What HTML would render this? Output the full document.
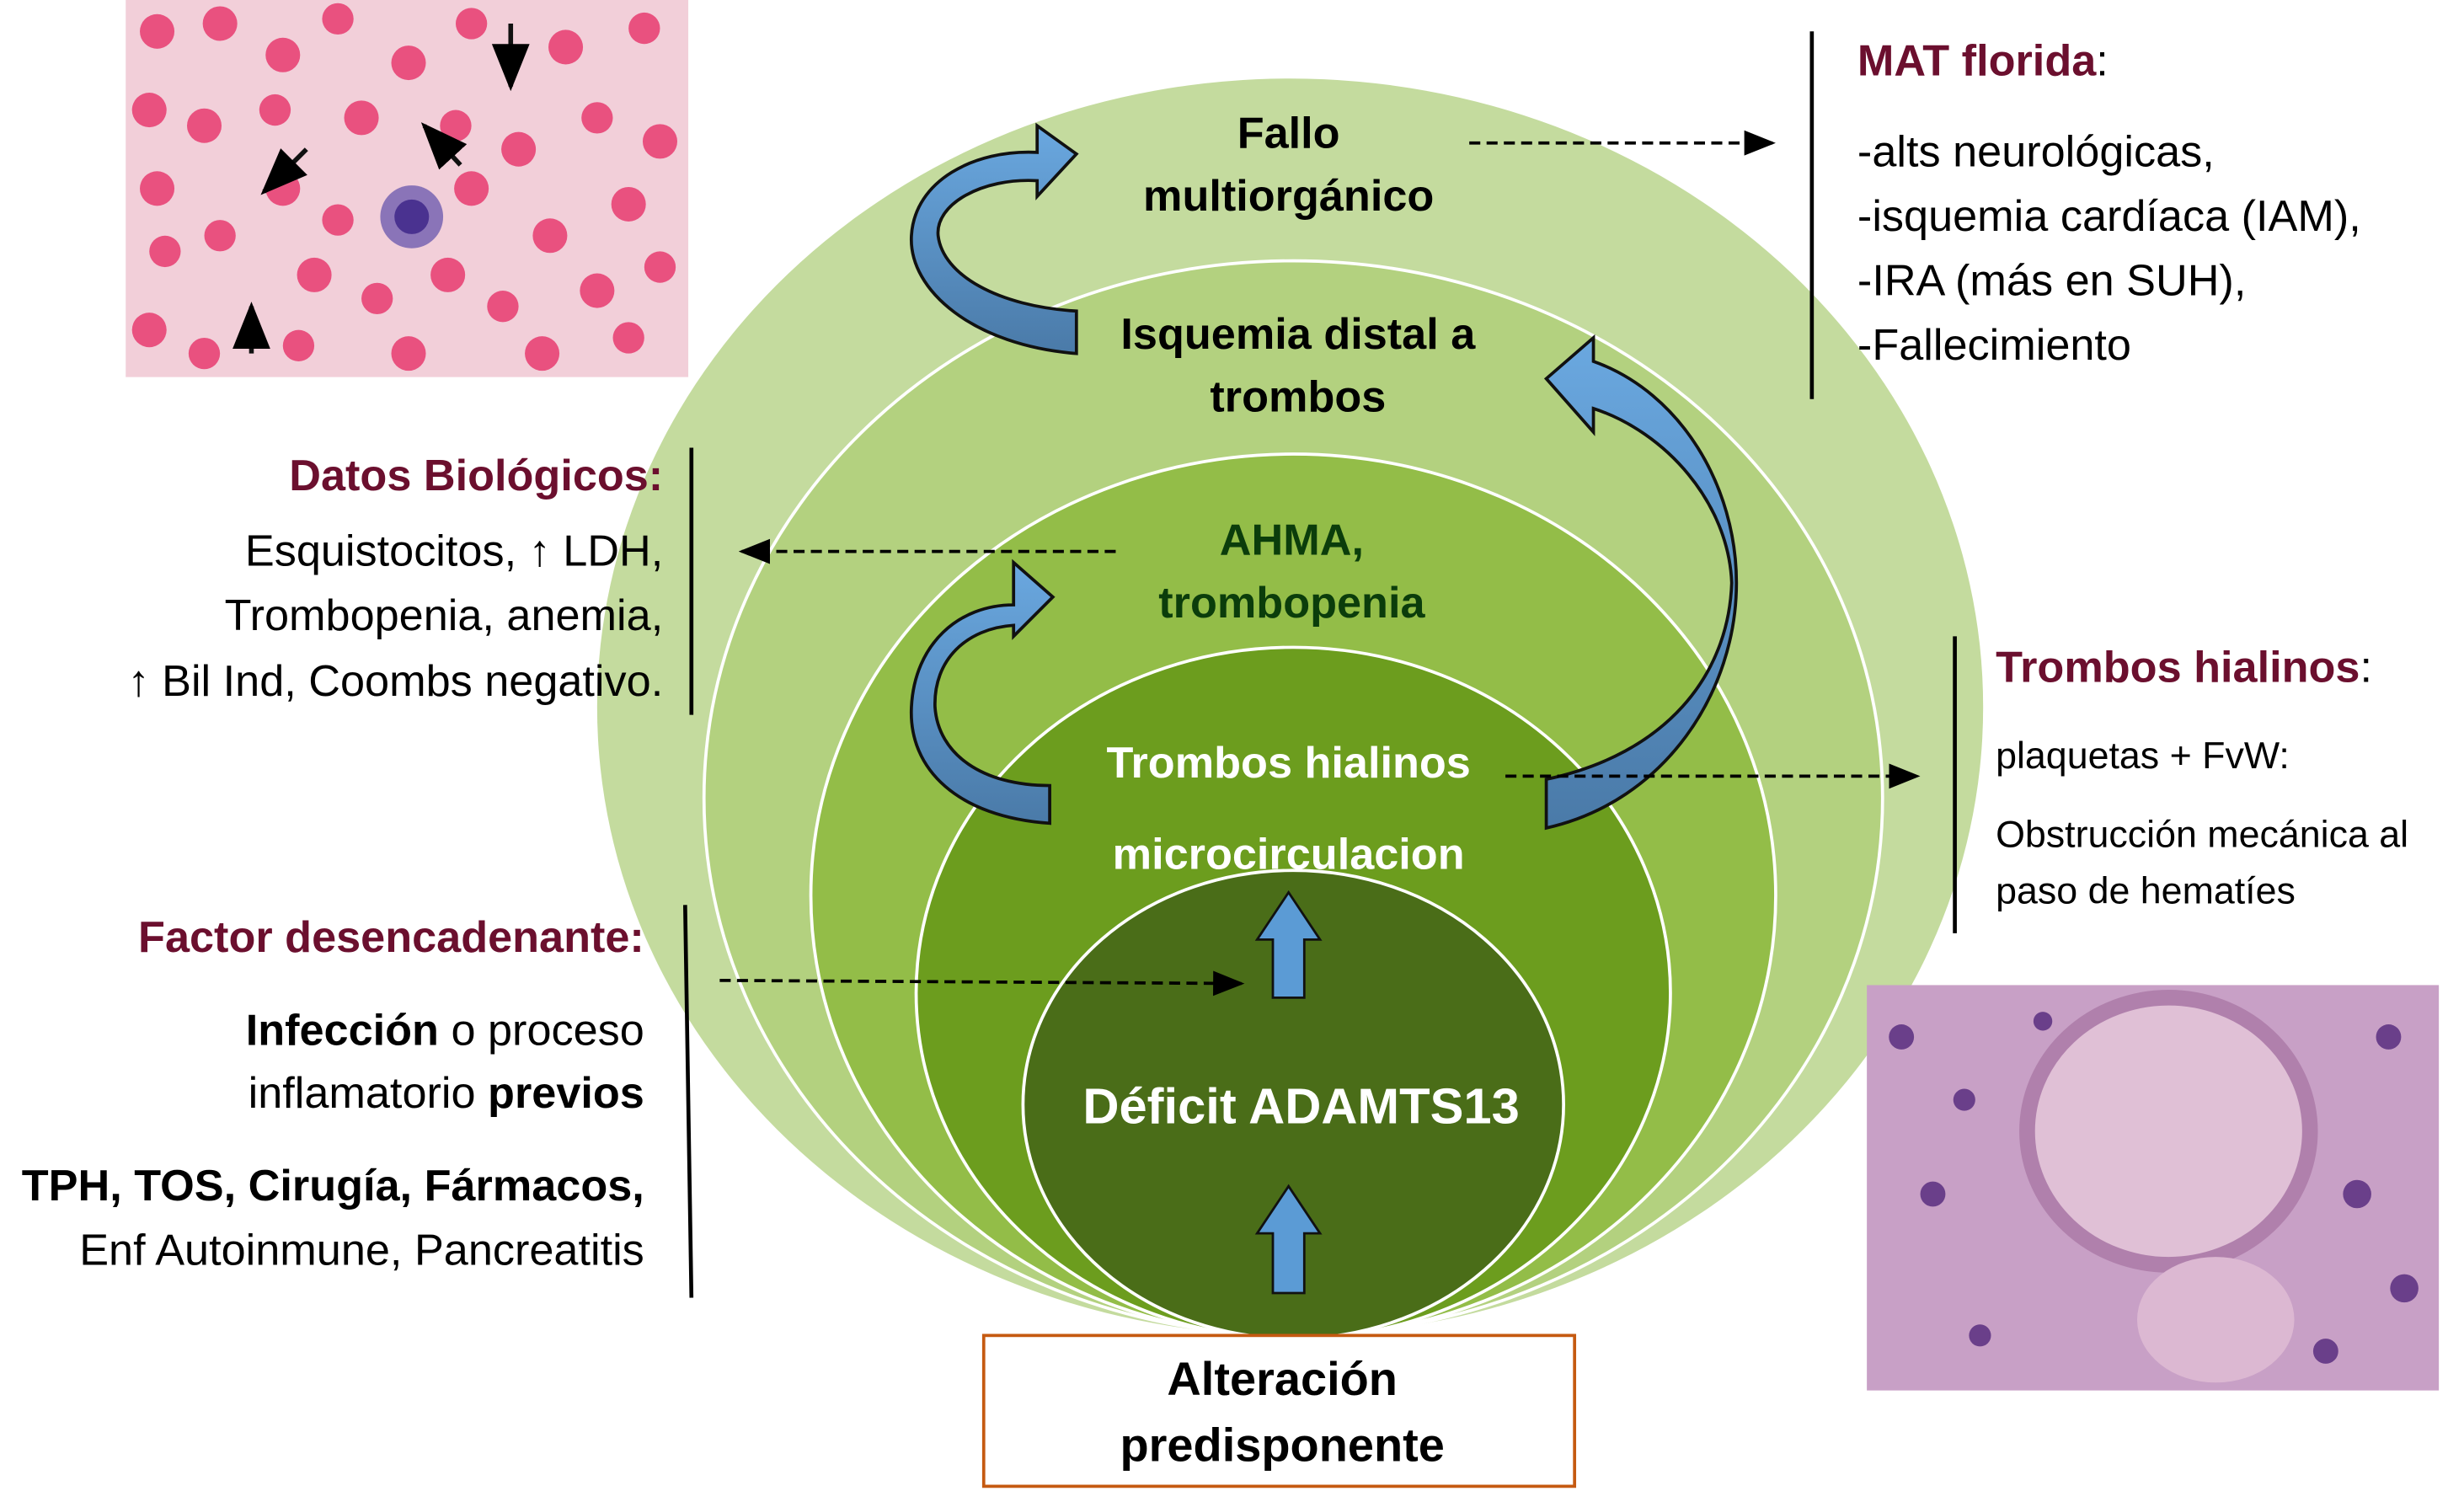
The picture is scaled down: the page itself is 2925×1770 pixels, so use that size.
<!DOCTYPE html>
<html><head><meta charset="utf-8"><style>
html,body{margin:0;padding:0;background:#fff;}
svg{display:block;}
text{font-family:"Liberation Sans",sans-serif;}
</style></head><body>
<svg width="2925" height="1770" viewBox="0 0 1568 949" preserveAspectRatio="none" xmlns="http://www.w3.org/2000/svg">
<defs>
<marker id="ah" markerWidth="10" markerHeight="10" refX="9" refY="5" orient="auto"><path d="M0,1 L10,5 L0,9 z" fill="#000"/></marker>
<linearGradient id="bl" x1="0" y1="0" x2="0" y2="1"><stop offset="0" stop-color="#6aa8e0"/><stop offset="1" stop-color="#4a7aa8"/></linearGradient>
</defs>
<rect width="1568" height="949" fill="#fff"/>
<ellipse cx="821" cy="450" rx="441" ry="400" fill="#c4db9e"/>
<ellipse cx="823" cy="508" rx="375" ry="342" fill="#b3d17f" stroke="#fff" stroke-width="2"/>
<ellipse cx="823" cy="570" rx="307" ry="281" fill="#93bd48" stroke="#fff" stroke-width="2"/>
<ellipse cx="823" cy="632" rx="240" ry="220" fill="#6c9d1e" stroke="#fff" stroke-width="2"/>
<ellipse cx="823" cy="703" rx="172" ry="149" fill="#4a6d18" stroke="#fff" stroke-width="2"/>

<rect x="80" y="0" width="358" height="240" fill="#f2cfd9"/>
<g fill="#e9517f">
<circle cx="100" cy="20" r="11"/><circle cx="140" cy="15" r="11"/><circle cx="180" cy="35" r="11"/><circle cx="215" cy="12" r="10"/><circle cx="260" cy="40" r="11"/><circle cx="300" cy="15" r="10"/><circle cx="360" cy="30" r="11"/><circle cx="410" cy="18" r="10"/>
<circle cx="95" cy="70" r="11"/><circle cx="130" cy="80" r="11"/><circle cx="175" cy="70" r="10"/><circle cx="230" cy="75" r="11"/><circle cx="290" cy="80" r="10"/><circle cx="330" cy="95" r="11"/><circle cx="380" cy="75" r="10"/><circle cx="420" cy="90" r="11"/>
<circle cx="100" cy="120" r="11"/><circle cx="180" cy="120" r="11"/><circle cx="215" cy="140" r="10"/><circle cx="300" cy="120" r="11"/><circle cx="350" cy="150" r="11"/><circle cx="400" cy="130" r="11"/>
<circle cx="105" cy="160" r="10"/><circle cx="140" cy="150" r="10"/><circle cx="200" cy="175" r="11"/><circle cx="240" cy="190" r="10"/><circle cx="285" cy="175" r="11"/><circle cx="320" cy="195" r="10"/><circle cx="380" cy="185" r="11"/><circle cx="420" cy="170" r="10"/>
<circle cx="95" cy="210" r="11"/><circle cx="130" cy="225" r="10"/><circle cx="190" cy="220" r="10"/><circle cx="260" cy="225" r="11"/><circle cx="345" cy="225" r="11"/><circle cx="400" cy="215" r="10"/>
</g>
<circle cx="262" cy="138" r="20" fill="#8a74b8"/><circle cx="262" cy="138" r="11" fill="#4a3290"/>
<g stroke="#111" stroke-width="3" marker-end="url(#ah)" fill="none">
<line x1="325" y1="15" x2="325" y2="55"/><line x1="195" y1="95" x2="168" y2="122"/><line x1="293" y1="105" x2="270" y2="80"/><line x1="160" y1="225" x2="160" y2="195"/>
</g>

<rect x="1188" y="627" width="364" height="258" fill="#c8a0c6"/>
<ellipse cx="1380" cy="720" rx="90" ry="85" fill="#e0c0d6" stroke="#b080ac" stroke-width="10"/>
<ellipse cx="1410" cy="840" rx="50" ry="40" fill="#dcb8d2"/>
<g fill="#6a3f8a"><circle cx="1210" cy="660" r="8"/><circle cx="1250" cy="700" r="7"/><circle cx="1230" cy="760" r="8"/><circle cx="1520" cy="660" r="8"/><circle cx="1500" cy="760" r="9"/><circle cx="1530" cy="820" r="9"/><circle cx="1480" cy="860" r="8"/><circle cx="1260" cy="850" r="7"/><circle cx="1300" cy="650" r="6"/></g>

<!-- blue arrows -->
<path d="M685,225 C620,220 578,185 580,150 C582,115 620,95 660,97 L660,80 L685,98 L660,125 L660,115 C625,113 595,130 597,150 C600,175 635,195 685,198 Z" fill="url(#bl)" stroke="#111" stroke-width="2"/>
<path d="M668,524 C610,520 578,490 580,450 C582,410 610,385 645,385 L645,358 L670,380 L645,405 L645,398 C615,400 594,420 595,450 C597,480 625,500 668,500 Z" fill="url(#bl)" stroke="#111" stroke-width="2"/>
<path d="M1014,230 C1070,250 1105,310 1105,371 C1105,440 1060,510 984,527 L984,496 C1060,480 1100,430 1102,371 C1100,320 1060,275 1014,260 L1014,275 L984,241 L1014,215 Z" fill="url(#bl)" stroke="#111" stroke-width="2"/>
<path d="M810,635 L810,598 L800,598 L820,568 L840,598 L830,598 L830,635 z" fill="#5b9bd5" stroke="#111" stroke-width="1.5"/>
<path d="M810,823 L810,785 L800,785 L820,755 L840,785 L830,785 L830,823 z" fill="#5b9bd5" stroke="#111" stroke-width="1.5"/>

<g font-weight="bold" text-anchor="middle" font-size="28">
<text x="820" y="94" fill="#000">Fallo</text><text x="820" y="134" fill="#000">multiorgánico</text>
<text x="826" y="222" fill="#000">Isquemia distal a</text><text x="826" y="262" fill="#000">trombos</text>
<text x="822" y="353" fill="#0b3d0b">AHMA,</text><text x="822" y="393" fill="#0b3d0b">trombopenia</text>
<text x="820" y="495" fill="#fff">Trombos hialinos</text><text x="820" y="553" fill="#fff">microcirculacion</text>
<text x="828" y="715" fill="#fff" font-size="32">Déficit ADAMTS13</text>
</g>

<rect x="626" y="850" width="376" height="96" fill="#fff" stroke="#c55a11" stroke-width="2"/>
<text x="816" y="888" text-anchor="middle" font-weight="bold" font-size="30">Alteración</text>
<text x="816" y="930" text-anchor="middle" font-weight="bold" font-size="30">predisponente</text>

<g stroke="#000" stroke-width="2" stroke-dasharray="7,4" marker-end="url(#ah)" fill="none">
<line x1="935" y1="91" x2="1128" y2="91"/>
<line x1="710" y1="351" x2="472" y2="351"/>
<line x1="958" y1="494" x2="1220" y2="494"/>
<line x1="458" y1="624" x2="790" y2="626"/>
</g>

<g stroke="#000" stroke-width="2.5">
<line x1="1153" y1="20" x2="1153" y2="254"/>
<line x1="440" y1="285" x2="440" y2="455"/>
<line x1="1244" y1="405" x2="1244" y2="594"/>
<line x1="436" y1="576" x2="440" y2="826"/>
</g>

<text x="1182" y="48" font-size="28" font-weight="bold" fill="#6b0f2e">MAT florida<tspan fill="#000" font-weight="normal">:</tspan></text>
<g font-size="28"><text x="1182" y="106">-alts neurológicas,</text><text x="1182" y="147">-isquemia cardíaca (IAM),</text><text x="1182" y="188">-IRA (más en SUH),</text><text x="1182" y="229">-Fallecimiento</text></g>
<text x="1270" y="434" font-size="28" font-weight="bold" fill="#6b0f2e">Trombos hialinos<tspan fill="#000" font-weight="normal">:</tspan></text>
<g font-size="24"><text x="1270" y="489">plaquetas + FvW:</text><text x="1270" y="539">Obstrucción mecánica al</text><text x="1270" y="575">paso de hematíes</text></g>

<g text-anchor="end" font-size="28">
<text x="422" y="312" font-weight="bold" fill="#6b0f2e">Datos Biológicos:</text>
<text x="422" y="360">Esquistocitos, ↑ LDH,</text>
<text x="422" y="401">Trombopenia, anemia,</text>
<text x="422" y="443"><tspan font-weight="bold">↑</tspan> Bil Ind, Coombs negativo.</text>
<text x="410" y="606" font-weight="bold" fill="#6b0f2e">Factor desencadenante:</text>
<text x="410" y="665"><tspan font-weight="bold">Infección</tspan> o proceso</text>
<text x="410" y="705">inflamatorio <tspan font-weight="bold">previos</tspan></text>
<text x="410" y="764" font-weight="bold">TPH, TOS, Cirugía, Fármacos,</text>
<text x="410" y="805">Enf Autoinmune, Pancreatitis</text>
</g>
</svg>
</body></html>
